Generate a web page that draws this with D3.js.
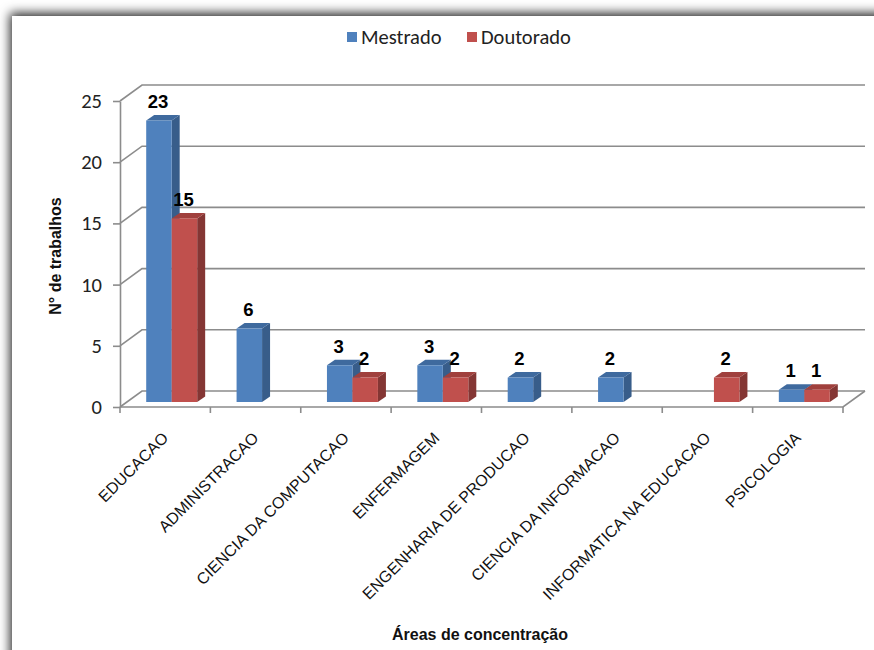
<!DOCTYPE html>
<html><head><meta charset="utf-8">
<script src="https://cdn.jsdelivr.net/npm/d3@7"></script>
<style>html,body{margin:0;padding:0;background:#fff;} svg{display:block}</style>
</head><body>
<svg id="chart" width="874" height="650"></svg>
<script>
// Áreas de concentração — número de trabalhos por nível
const categories = ["EDUCACAO", "ADMINISTRACAO", "CIENCIA DA COMPUTACAO", "ENFERMAGEM",
  "ENGENHARIA DE PRODUCAO", "CIENCIA DA INFORMACAO", "INFORMATICA NA EDUCACAO", "PSICOLOGIA"];
const seriesNames = ["Mestrado", "Doutorado"];
const mestrado = [23, 6, 3, 3, 2, 2, null, 1];
const doutorado = [15, null, 2, 2, null, null, 2, 1];
const yTicks = [0, 5, 10, 15, 20, 25];
const yTitle = "N° de trabalhos";
const xTitle = "Áreas de concentração";

const colors = {
  Mestrado: { front: "#4F81BD", top: "#3F6A9E", side: "#385D8A" },
  Doutorado: { front: "#C0504D", top: "#A0403D", side: "#843634" }
};

const svg = d3.select("#chart");
const calibri = "Carlito, Lato, 'Liberation Sans', sans-serif";
const arial = "'Liberation Sans', Arial, sans-serif";

// chart frame with soft outer shadow
const defs = svg.append("defs");
const f = defs.append("filter").attr("id", "frameShadow")
  .attr("filterUnits", "userSpaceOnUse").attr("x", -40).attr("y", -40).attr("width", 1000).attr("height", 800);
f.append("feDropShadow").attr("dx", -2).attr("dy", -3).attr("stdDeviation", 5.5)
  .attr("flood-color", "#000").attr("flood-opacity", 0.85);
svg.append("rect").attr("x", 0).attr("y", 0).attr("width", 874).attr("height", 650).attr("fill", "#fff");
svg.append("rect").attr("x", 12).attr("y", 16).attr("width", 950).attr("height", 750)
  .attr("fill", "#fff").attr("filter", "url(#frameShadow)");

// plot geometry (front plane + depth of the walls)
const x0 = 120, x1 = 843;
const wall = { dx: 22, dy: -16 };
const barOff = { dx: 6.5, dy: -5 };
const barDepth = { dx: 8, dy: -5.5 };

const x = d3.scaleBand().domain(categories).range([x0, x1]).paddingInner(0).paddingOuter(0);
const bw = x.bandwidth();
const xs = d3.scaleBand().domain(seriesNames).range([bw * 0.218, bw * 0.782]);
const y = d3.scaleLinear().domain([0, 25]).range([407, 101]);

const gridColor = "#8c8c8c";
const grid = svg.append("g");
// back wall and side wall gridlines
yTicks.forEach(v => {
  const yf = y(v), yb = yf + wall.dy;
  grid.append("path")
    .attr("d", `M${x0},${yf}L${x0 + wall.dx},${yb}L${x1 + wall.dx},${yb}`)
    .attr("fill", "none").attr("stroke", gridColor).attr("stroke-width", 1.6);
});
// floor edges
grid.append("path")
  .attr("d", `M${x0},${y(0)}L${x1},${y(0)}L${x1 + wall.dx},${y(0) + wall.dy}`)
  .attr("fill", "none").attr("stroke", gridColor).attr("stroke-width", 1.6);

// y axis
const yAxis = svg.append("g").attr("transform", `translate(${x0},0)`)
  .call(d3.axisLeft(y).tickValues(yTicks).tickSize(7).tickPadding(11).tickSizeOuter(0));
yAxis.select(".domain").attr("stroke", gridColor).attr("stroke-width", 1.6);
yAxis.selectAll(".tick line").attr("stroke", gridColor).attr("stroke-width", 1.6);
yAxis.selectAll(".tick text").attr("font-family", calibri).attr("font-size", 20.5).attr("fill", "#222");

// category ticks along the front floor edge
const bounds = categories.map(c => x(c)).concat([x1]);
svg.append("g").selectAll("line").data(bounds).join("line")
  .attr("x1", d => d).attr("x2", d => d).attr("y1", y(0)).attr("y2", y(0) + 6)
  .attr("stroke", gridColor).attr("stroke-width", 1.6);

// category labels
svg.append("g").selectAll("text").data(categories).join("text")
  .attr("transform", d => `translate(${x(d) + bw / 2 + 4},${439}) rotate(-45)`)
  .attr("text-anchor", "end")
  .attr("font-family", arial).attr("font-size", 16).attr("fill", "#111")
  .text(d => d);

// 3D bars
const seriesData = { Mestrado: mestrado, Doutorado: doutorado };
const bars = svg.append("g");
categories.forEach((c, i) => {
  seriesNames.forEach(s => {
    const v = seriesData[s][i];
    if (v == null) return;
    const col = colors[s];
    const left = x(c) + xs(s) + barOff.dx;
    const right = left + xs.bandwidth();
    const top = y(v) + barOff.dy;
    const bottom = y(0) + barOff.dy;
    const g = bars.append("g");
    g.append("path").attr("fill", col.side)
      .attr("d", `M${right},${top}L${right + barDepth.dx},${top + barDepth.dy}L${right + barDepth.dx},${bottom + barDepth.dy}L${right},${bottom}Z`);
    g.append("path").attr("fill", col.top)
      .attr("d", `M${left},${top}L${left + barDepth.dx},${top + barDepth.dy}L${right + barDepth.dx},${top + barDepth.dy}L${right},${top}Z`);
    g.append("rect").attr("fill", col.front)
      .attr("x", left).attr("y", top).attr("width", right - left).attr("height", bottom - top);
  });
});

// value labels
const labels = svg.append("g");
categories.forEach((c, i) => {
  seriesNames.forEach(s => {
    const v = seriesData[s][i];
    if (v == null) return;
    const cx = x(c) + xs(s) + barOff.dx + xs.bandwidth() / 2 - 1;
    labels.append("text")
      .attr("x", cx).attr("y", y(v) + barOff.dy - 12.5)
      .attr("text-anchor", "middle")
      .attr("font-family", arial).attr("font-weight", "bold").attr("font-size", 18.5).attr("fill", "#000")
      .text(v);
  });
});

// axis titles
svg.append("text")
  .attr("transform", "translate(61,256) rotate(-90)")
  .attr("text-anchor", "middle")
  .attr("font-family", arial).attr("font-weight", "bold").attr("font-size", 16).attr("fill", "#111")
  .text(yTitle);
svg.append("text")
  .attr("x", 480).attr("y", 640)
  .attr("text-anchor", "middle")
  .attr("font-family", arial).attr("font-weight", "bold").attr("font-size", 16).attr("fill", "#111")
  .text(xTitle);

// legend
const legendX = { Mestrado: 347, Doutorado: 467 };
const legend = svg.append("g");
seriesNames.forEach(s => {
  legend.append("rect").attr("x", legendX[s]).attr("y", 32).attr("width", 10).attr("height", 10)
    .attr("fill", colors[s].front);
  legend.append("text").attr("x", legendX[s] + 14).attr("y", 44)
    .attr("font-family", calibri).attr("font-size", 20.5).attr("fill", "#222")
    .text(s);
});
</script>
</body></html>
